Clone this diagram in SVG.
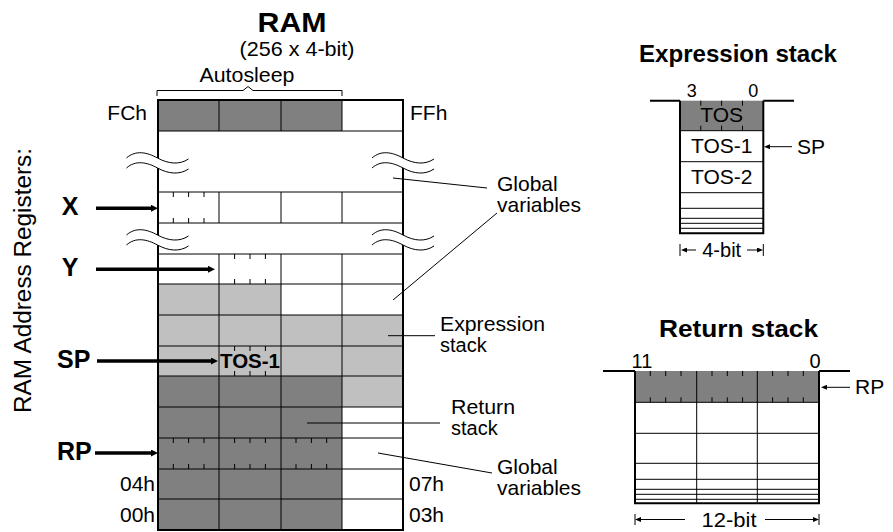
<svg xmlns="http://www.w3.org/2000/svg" width="893" height="532" viewBox="0 0 893 532">
<style>
text{font-family:"Liberation Sans",Arial,Helvetica,sans-serif;fill:#000}
.r{font-size:21px}
.c{font-size:20px}
.s{font-size:20px}
.b{font-weight:bold}
.m{text-anchor:middle}
.e{text-anchor:end}
.g{stroke:#000;stroke-width:1;fill:none}
.o{stroke:#000;stroke-width:2;fill:none}
.dk{fill:#808080}
.lt{fill:#c0c0c0}
.tk{stroke:#000;stroke-width:1;fill:none}
.ld{stroke:#000;stroke-width:1;fill:none}
.ta{stroke:#000;stroke-width:3.5;fill:none}
.na{stroke:#000;stroke-width:1;fill:none}
</style>
<defs>
<marker id="thick" viewBox="0 -3.5 7 7" refX="0" refY="0" markerWidth="7" markerHeight="7" markerUnits="userSpaceOnUse" orient="auto">
<path d="M0,-3.5 L7,0 L0,3.5 Z" fill="#000"/>
</marker>
<marker id="thin" viewBox="0 -2.5 6 5" refX="0" refY="0" markerWidth="6" markerHeight="5" markerUnits="userSpaceOnUse" orient="auto">
<path d="M0,-2.5 L6,0 L0,2.5 Z" fill="#000"/>
</marker>
<g id="wave">
<path d="M-31,0 C-22,-8 -11,-6 0,0 C11,6 22,7 31,1 L31,11 C22,17 11,16 0,10 C-11,4 -22,2 -31,10 Z" fill="#fff" stroke="none"/>
<path d="M-31,0 C-22,-8 -11,-6 0,0 C11,6 22,7 31,1" class="g"/>
<path d="M-31,10 C-22,2 -11,4 0,10 C11,16 22,17 31,11" class="g"/>
</g>
</defs>
<rect width="893" height="532" fill="#fff"/>

<g id="titles">
<text x="292" y="32" class="b m" font-size="28" textLength="69" lengthAdjust="spacingAndGlyphs">RAM</text>
<text x="297" y="56" class="r m" textLength="115" lengthAdjust="spacingAndGlyphs">(256 x 4-bit)</text>
<text x="247" y="82" class="r m" textLength="95" lengthAdjust="spacingAndGlyphs">Autosleep</text>
<path d="M157,96 V90.5 H243 L248,86.5 L253,90.5 H342 V96" class="g"/>
<text transform="translate(31,280.5) rotate(-90)" class="m" font-size="23" textLength="265" lengthAdjust="spacingAndGlyphs">RAM Address Registers:</text>
</g>

<g id="ram">
<rect x="158" y="100" width="184" height="31" class="dk"/>
<rect x="158" y="284" width="123" height="31" class="lt"/>
<rect x="158" y="315" width="245" height="61" class="lt"/>
<rect x="342" y="376" width="61" height="31" class="lt"/>
<rect x="158" y="376" width="184" height="154" class="dk"/>
<path d="M158,131 H403 M158,192 H403 M158,223 H403 M158,254 H403 M158,284 H403 M158,315 H403 M158,346 H403 M158,376 H403 M158,407 H403 M158,438 H403 M158,469 H403 M158,499 H403" class="g"/>
<path d="M219,100 V131 M281,100 V131 M342,100 V131 M219,192 V223 M281,192 V223 M342,192 V223 M219,254 V530 M281,254 V530 M342,254 V530" class="g"/>
<path d="M173.3,192 v5 M188.6,192 v5 M204,192 v5 M173.3,223 v-5 M188.6,223 v-5 M204,223 v-5
M234.6,254 v5 M250,254 v5 M265.4,254 v5 M234.6,284 v-5 M250,284 v-5 M265.4,284 v-5
M234.6,346 v5 M250,346 v5 M265.4,346 v5 M234.6,376 v-5 M250,376 v-5 M265.4,376 v-5
M173.3,438 v5 M188.6,438 v5 M204,438 v5 M234.6,438 v5 M250,438 v5 M265.4,438 v5 M296,438 v5 M311.4,438 v5 M326.7,438 v5
M173.3,469 v-5 M188.6,469 v-5 M204,469 v-5 M234.6,469 v-5 M250,469 v-5 M265.4,469 v-5 M296,469 v-5 M311.4,469 v-5 M326.7,469 v-5" class="tk"/>
<rect x="158" y="100" width="245" height="430" class="o"/>
<use href="#wave" x="157.5" y="158"/>
<use href="#wave" x="403" y="158"/>
<use href="#wave" x="157.5" y="235"/>
<use href="#wave" x="403" y="235"/>
<text x="250" y="367.5" class="b m" font-size="20" textLength="60" lengthAdjust="spacingAndGlyphs">TOS-1</text>
<text x="147" y="120" class="r e">FCh</text>
<text x="410" y="120" class="r">FFh</text>
<text x="155" y="491" class="r e">04h</text>
<text x="155" y="522" class="r e">00h</text>
<text x="409" y="491" class="r">07h</text>
<text x="409" y="522" class="r">03h</text>
</g>

<g id="reg-labels">
<text x="70" y="215" class="b m" font-size="25">X</text>
<text x="70" y="276" class="b m" font-size="25">Y</text>
<text x="57" y="367.5" class="b" font-size="25">SP</text>
<text x="57" y="460" class="b" font-size="25">RP</text>
</g>

<g id="callouts">
<text x="497" y="191" class="r">Global</text>
<text x="497" y="212" class="r">variables</text>
<text x="440" y="331" class="c" textLength="105" lengthAdjust="spacingAndGlyphs">Expression</text>
<text x="440" y="352" class="c">stack</text>
<text x="451" y="413.5" class="c" textLength="64" lengthAdjust="spacingAndGlyphs">Return</text>
<text x="451" y="434.5" class="c">stack</text>
<text x="497" y="474" class="r">Global</text>
<text x="497" y="495" class="r">variables</text>
</g>

<g id="expr-stack">
<text x="738" y="62" class="b m" font-size="23" textLength="198" lengthAdjust="spacingAndGlyphs">Expression stack</text>
<rect x="680" y="100.7" width="83.3" height="30" class="dk"/>
<path d="M680,130.7 H763.3 M680,161.7 H763.3 M680,192.7 H763.3 M680,208.3 H763.3 M680,218.3 H763.3 M680,223.3 H763.3 M680,228.3 H763.3" class="g"/>
<path d="M700.8,100.7 v5 M721.6,100.7 v5 M742.5,100.7 v5 M700.8,130.7 v-5 M721.6,130.7 v-5 M742.5,130.7 v-5" class="tk"/>
<path d="M650,100.7 H680 M763.3,100.7 H794 M680,100.7 V233.3 H763.3 V100.7" class="o"/>
<text x="691.7" y="97" class="m" font-size="18">3</text>
<text x="753.3" y="97" class="m" font-size="18">0</text>
<text x="721.7" y="122" class="r m">TOS</text>
<text x="721.7" y="153" class="r m">TOS-1</text>
<text x="721.7" y="184" class="r m">TOS-2</text>
<text x="797" y="154" class="r">SP</text>
<path d="M680,244 V256 M763.3,244 V256" class="tk"/>
<text x="721.7" y="257" class="s m">4-bit</text>
</g>

<g id="return-stack">
<text x="738.5" y="337" class="b m" font-size="23" textLength="159" lengthAdjust="spacingAndGlyphs">Return stack</text>
<rect x="635" y="371" width="184" height="31.3" class="dk"/>
<path d="M635,402.3 H819 M635,433.3 H819 M635,463.3 H819 M635,479.3 H819 M635,489.3 H819 M635,494.3 H819 M635,499.3 H819 M696.7,371 V503.3 M757.3,371 V503.3" class="g"/>
<path d="M650.3,371 v5 M665.7,371 v5 M681,371 v5 M712,371 v5 M727.3,371 v5 M742.6,371 v5 M772.6,371 v5 M788,371 v5 M803.3,371 v5
M650.3,402.3 v-5 M665.7,402.3 v-5 M681,402.3 v-5 M712,402.3 v-5 M727.3,402.3 v-5 M742.6,402.3 v-5 M772.6,402.3 v-5 M788,402.3 v-5 M803.3,402.3 v-5" class="tk"/>
<path d="M603,371 H635 M819,371 H850 M635,371 V503.3 H819 V371" class="o"/>
<text x="642" y="367.5" class="s m">11</text>
<text x="815" y="367.5" class="s m">0</text>
<text x="855" y="393.5" class="r">RP</text>
<path d="M635,514 V525 M819,514 V525" class="tk"/>
<text x="729" y="527" class="s m" textLength="55" lengthAdjust="spacingAndGlyphs">12-bit</text>
</g>

<g id="connectors">
<line x1="96" y1="208.3" x2="151" y2="208.3" class="ta" marker-end="url(#thick)"/>
<line x1="96" y1="269.3" x2="208" y2="269.3" class="ta" marker-end="url(#thick)"/>
<line x1="97" y1="361" x2="211" y2="361" class="ta" marker-end="url(#thick)"/>
<line x1="95" y1="453" x2="151" y2="453" class="ta" marker-end="url(#thick)"/>
<line x1="393" y1="178" x2="487" y2="188" class="ld"/>
<line x1="393" y1="300" x2="497" y2="213" class="ld"/>
<line x1="388" y1="335.7" x2="435" y2="335.7" class="ld"/>
<line x1="307" y1="423" x2="440" y2="423" class="ld"/>
<line x1="378" y1="453" x2="492" y2="473" class="ld"/>
<line x1="792" y1="146.7" x2="770" y2="146.7" class="na" marker-end="url(#thin)"/>
<line x1="850" y1="387.3" x2="827" y2="387.3" class="na" marker-end="url(#thin)"/>
<line x1="696" y1="250" x2="687" y2="250" class="na" marker-end="url(#thin)"/>
<line x1="747" y1="250" x2="757" y2="250" class="na" marker-end="url(#thin)"/>
<line x1="685" y1="519.5" x2="641" y2="519.5" class="na" marker-end="url(#thin)"/>
<line x1="765" y1="519.5" x2="813" y2="519.5" class="na" marker-end="url(#thin)"/>
</g>
</svg>
